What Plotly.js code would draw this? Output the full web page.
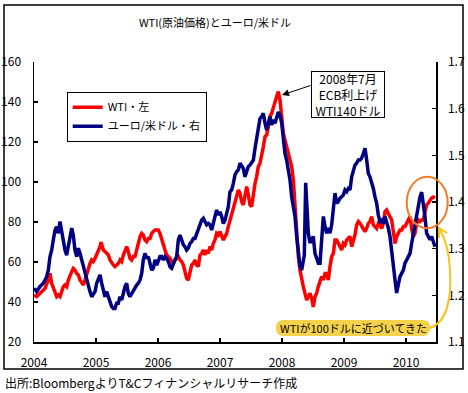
<!DOCTYPE html>
<html><head><meta charset="utf-8">
<script src="https://cdn.plot.ly/plotly-3.0.1.min.js"></script>
<style>html,body{margin:0;padding:0;background:#fff}#chart{width:468px;height:393px}</style>
</head><body><div id="chart"></div>
<script>
// WTI crude oil price (left axis, USD)
const wtiYear = [2004.000,2004.043,2004.070,2004.097,2004.151,2004.177,2004.231,2004.258,2004.285,2004.312,2004.339,2004.366,2004.392,2004.419,2004.446,2004.473,2004.500,2004.527,2004.554,2004.581,2004.608,2004.634,2004.661,2004.688,2004.715,2004.742,2004.769,2004.796,2004.823,2004.849,2004.876,2004.903,2004.930,2004.957,2004.984,2005.011,2005.038,2005.065,2005.081,2005.091,2005.118,2005.145,2005.172,2005.199,2005.226,2005.253,2005.280,2005.306,2005.333,2005.360,2005.387,2005.414,2005.441,2005.468,2005.495,2005.521,2005.548,2005.575,2005.602,2005.629,2005.656,2005.683,2005.710,2005.737,2005.763,2005.790,2005.817,2005.844,2005.871,2005.898,2005.925,2005.952,2005.979,2006.005,2006.032,2006.059,2006.086,2006.113,2006.140,2006.167,2006.194,2006.220,2006.247,2006.274,2006.301,2006.328,2006.355,2006.382,2006.409,2006.435,2006.462,2006.489,2006.516,2006.543,2006.570,2006.597,2006.624,2006.651,2006.677,2006.704,2006.731,2006.758,2006.785,2006.812,2006.839,2006.866,2006.892,2006.919,2006.946,2006.973,2007.000,2007.027,2007.054,2007.081,2007.108,2007.134,2007.161,2007.188,2007.215,2007.242,2007.269,2007.296,2007.323,2007.349,2007.376,2007.403,2007.430,2007.457,2007.484,2007.511,2007.538,2007.565,2007.591,2007.618,2007.645,2007.672,2007.699,2007.726,2007.753,2007.780,2007.806,2007.833,2007.860,2007.887,2007.914,2007.941,2007.968,2007.995,2008.022,2008.048,2008.075,2008.102,2008.129,2008.156,2008.183,2008.210,2008.237,2008.264,2008.290,2008.317,2008.344,2008.371,2008.398,2008.425,2008.452,2008.479,2008.505,2008.532,2008.559,2008.586,2008.613,2008.640,2008.667,2008.694,2008.720,2008.747,2008.774,2008.801,2008.828,2008.855,2008.882,2008.909,2008.935,2008.962,2008.989,2009.016,2009.043,2009.070,2009.097,2009.124,2009.151,2009.177,2009.204,2009.231,2009.258,2009.285,2009.312,2009.339,2009.366,2009.392,2009.419,2009.446,2009.473,2009.500,2009.527,2009.554,2009.581,2009.608,2009.634,2009.661,2009.688,2009.715,2009.742,2009.769,2009.796,2009.823,2009.849,2009.876,2009.903,2009.930,2009.957,2009.984,2010.011,2010.038,2010.065,2010.091,2010.118,2010.145,2010.172,2010.199,2010.226,2010.253,2010.280,2010.306,2010.333,2010.360,2010.387,2010.414,2010.441,2010.468];
const wtiPrice = [43.5,42.7,43.5,44.3,46.0,46.8,51.0,54.3,49.3,46.8,45.2,42.7,43.5,42.7,45.2,47.7,48.5,47.7,51.0,53.5,55.2,56.8,56.0,54.3,53.5,51.0,49.3,48.5,51.0,54.3,57.7,59.3,61.0,60.2,61.8,63.5,66.0,67.7,70.0,68.5,66.0,65.2,64.3,63.5,61.0,59.3,58.5,57.7,58.5,59.3,61.0,60.2,63.5,66.0,67.7,65.2,61.8,61.0,62.7,62.7,66.8,69.3,72.7,74.3,73.5,71.0,70.2,71.8,71.8,74.3,75.2,76.0,76.0,76.0,74.3,71.0,69.3,66.0,63.5,62.7,61.8,60.2,59.3,61.0,61.8,62.7,61.0,60.2,58.5,54.3,51.8,51.0,56.0,58.5,59.3,61.0,58.5,57.7,63.5,64.3,66.0,63.5,66.0,64.3,67.7,66.0,69.3,71.0,74.3,73.5,75.2,72.7,71.0,72.7,74.3,77.7,81.0,84.3,87.7,89.3,92.7,96.0,94.3,90.2,88.5,92.7,97.7,93.5,88.5,87.7,94.3,99.3,102.7,107.7,109.3,112.7,117.7,122.7,123.5,127.7,132.7,134.3,137.7,141.0,142.7,145.2,141.0,132.7,124.3,121.0,117.7,116.0,111.0,107.7,101.0,87.7,74.3,62.7,56.0,52.7,47.7,44.3,41.0,42.7,44.3,41.8,37.5,42.7,44.3,47.7,51.0,52.7,51.0,54.3,54.3,51.0,57.7,62.7,64.3,71.0,71.0,69.3,66.8,66.0,69.3,68.5,71.0,71.8,72.7,67.7,70.2,73.5,78.5,80.2,79.3,77.7,76.0,75.2,76.8,79.3,80.2,82.7,78.5,77.7,76.8,79.3,78.5,76.8,79.3,85.2,86.0,84.3,82.7,81.0,75.2,69.3,72.7,74.3,76.0,76.0,77.7,77.7,79.3,81.0,82.7,76.8,72.7,74.3,79.3,81.0,80.2,81.0,81.0,85.0,88.5,89.5,91.0,92.0,92.5,92.0];

// EUR/USD (right axis)
const eurYear = [2004.000,2004.043,2004.097,2004.151,2004.204,2004.231,2004.258,2004.285,2004.312,2004.339,2004.366,2004.392,2004.419,2004.446,2004.473,2004.500,2004.527,2004.554,2004.581,2004.608,2004.634,2004.661,2004.688,2004.715,2004.742,2004.769,2004.796,2004.823,2004.849,2004.876,2004.903,2004.930,2004.957,2004.984,2005.011,2005.038,2005.065,2005.091,2005.118,2005.145,2005.172,2005.199,2005.226,2005.253,2005.280,2005.306,2005.333,2005.360,2005.387,2005.414,2005.441,2005.468,2005.495,2005.521,2005.548,2005.575,2005.602,2005.629,2005.656,2005.683,2005.710,2005.737,2005.763,2005.790,2005.817,2005.844,2005.871,2005.898,2005.925,2005.952,2005.979,2006.005,2006.032,2006.059,2006.086,2006.113,2006.140,2006.167,2006.194,2006.220,2006.247,2006.274,2006.301,2006.328,2006.355,2006.382,2006.409,2006.435,2006.462,2006.489,2006.516,2006.543,2006.570,2006.597,2006.624,2006.651,2006.677,2006.704,2006.731,2006.758,2006.785,2006.812,2006.839,2006.866,2006.892,2006.919,2006.946,2006.973,2007.000,2007.027,2007.054,2007.081,2007.108,2007.134,2007.161,2007.188,2007.215,2007.242,2007.269,2007.296,2007.323,2007.349,2007.376,2007.403,2007.430,2007.457,2007.484,2007.511,2007.538,2007.565,2007.591,2007.618,2007.645,2007.672,2007.699,2007.726,2007.753,2007.780,2007.806,2007.833,2007.860,2007.887,2007.914,2007.941,2007.968,2007.995,2008.022,2008.048,2008.075,2008.102,2008.129,2008.156,2008.183,2008.210,2008.237,2008.264,2008.290,2008.317,2008.344,2008.360,2008.382,2008.403,2008.425,2008.452,2008.479,2008.505,2008.532,2008.559,2008.586,2008.613,2008.640,2008.667,2008.694,2008.720,2008.747,2008.774,2008.801,2008.828,2008.855,2008.882,2008.909,2008.935,2008.962,2008.989,2009.016,2009.043,2009.070,2009.097,2009.124,2009.151,2009.177,2009.204,2009.231,2009.258,2009.285,2009.312,2009.339,2009.366,2009.392,2009.419,2009.446,2009.473,2009.500,2009.527,2009.554,2009.581,2009.608,2009.634,2009.661,2009.688,2009.715,2009.742,2009.769,2009.796,2009.823,2009.849,2009.876,2009.903,2009.930,2009.957,2009.984,2010.011,2010.038,2010.065,2010.091,2010.118,2010.145,2010.172,2010.199,2010.226,2010.253,2010.280,2010.306,2010.333,2010.360,2010.387,2010.414,2010.441,2010.468];
const eurRate = [1.215,1.208,1.219,1.226,1.240,1.254,1.283,1.297,1.319,1.340,1.347,1.333,1.358,1.336,1.308,1.297,1.286,1.308,1.326,1.344,1.329,1.297,1.283,1.301,1.290,1.276,1.261,1.244,1.233,1.219,1.208,1.197,1.204,1.208,1.226,1.237,1.244,1.226,1.208,1.197,1.208,1.197,1.183,1.176,1.172,1.172,1.183,1.183,1.197,1.190,1.204,1.219,1.226,1.204,1.197,1.204,1.211,1.215,1.222,1.226,1.233,1.247,1.276,1.290,1.279,1.283,1.269,1.254,1.258,1.276,1.265,1.276,1.283,1.283,1.276,1.283,1.279,1.272,1.261,1.258,1.269,1.276,1.283,1.319,1.329,1.319,1.308,1.304,1.297,1.301,1.311,1.315,1.322,1.322,1.333,1.340,1.354,1.361,1.365,1.358,1.351,1.354,1.351,1.340,1.354,1.372,1.383,1.372,1.379,1.369,1.354,1.361,1.379,1.390,1.422,1.426,1.440,1.458,1.465,1.469,1.483,1.479,1.472,1.454,1.469,1.476,1.479,1.486,1.490,1.515,1.536,1.561,1.579,1.583,1.590,1.569,1.554,1.569,1.583,1.565,1.576,1.569,1.583,1.593,1.586,1.569,1.536,1.504,1.490,1.469,1.447,1.411,1.390,1.369,1.326,1.286,1.263,1.254,1.271,1.286,1.441,1.372,1.333,1.312,1.319,1.326,1.290,1.279,1.269,1.269,1.319,1.369,1.347,1.333,1.344,1.333,1.351,1.390,1.419,1.397,1.401,1.408,1.411,1.415,1.426,1.422,1.429,1.426,1.454,1.469,1.479,1.483,1.490,1.490,1.494,1.504,1.515,1.490,1.461,1.454,1.443,1.429,1.411,1.397,1.372,1.358,1.361,1.354,1.369,1.358,1.344,1.326,1.290,1.254,1.233,1.205,1.226,1.240,1.247,1.254,1.269,1.276,1.286,1.290,1.311,1.333,1.351,1.376,1.397,1.411,1.421,1.397,1.369,1.333,1.326,1.319,1.326,1.312,1.304];

const yearTicks = [2004,2005,2006,2007,2008,2009,2010];
const yearTickText = ['2004','2005','2006','2007','2008','2009','2010'];
const wtiTicks = [20,40,60,80,100,120,140,160];
const eurTicks = [1.1,1.2,1.3,1.4,1.5,1.6,1.7];
const eurTickText = ['1.1','1.2','1.3','1.4','1.5','1.6','1.7'];

const seriesNames = ['WTI・左','ユーロ/米ドル・右'];
const chartTitle = 'WTI(原油価格)とユーロ/米ドル';
const noteText = '2008年7月<br>ECB利上げ<br>WTI140ドル';
const calloutText = 'WTIが100ドルに近づいてきた';
const sourceText = '出所:BloombergよりT&Cフィナンシャルリサーチ作成';

// pixel -> paper helpers (plot area: x 34..436, y 62..342)
const L = 34, R = 436, T = 62, B = 342;
const px = x => (x - L) / (R - L);
const py = y => (B - y) / (B - T);
const P = (x, y) => px(x).toFixed(5) + ',' + py(y).toFixed(5);

function roundRect(x0, y0, x1, y1, r) {
  const k = r * 0.45;
  return `M ${P(x0 + r, y0)} L ${P(x1 - r, y0)} C ${P(x1 - k, y0)} ${P(x1, y0 + k)} ${P(x1, y0 + r)} ` +
    `L ${P(x1, y1 - r)} C ${P(x1, y1 - k)} ${P(x1 - k, y1)} ${P(x1 - r, y1)} ` +
    `L ${P(x0 + r, y1)} C ${P(x0 + k, y1)} ${P(x0, y1 - k)} ${P(x0, y1 - r)} ` +
    `L ${P(x0, y0 + r)} C ${P(x0, y0 + k)} ${P(x0 + k, y0)} ${P(x0 + r, y0)} Z`;
}

const FONT = '"Noto Sans CJK JP", "Liberation Sans", sans-serif';

const traces = [
  {x: wtiYear, y: wtiPrice, name: seriesNames[0], type: 'scatter', mode: 'lines',
   line: {color: '#ff0000', width: 3.5}, yaxis: 'y'},
  {x: eurYear, y: eurRate, name: seriesNames[1], type: 'scatter', mode: 'lines',
   line: {color: '#000080', width: 3.5}, yaxis: 'y2'}
];

const axisCommon = {showline: true, linecolor: '#000', linewidth: 1.5, ticks: 'inside', ticklen: 4,
  tickwidth: 1.5, tickcolor: '#000', showgrid: false, zeroline: false, fixedrange: true,
  tickfont: {size: 12, color: '#000', family: FONT}};

const layout = {
  width: 468, height: 393,
  margin: {l: L, r: 468 - R, t: T, b: 393 - B, pad: 0},
  paper_bgcolor: '#fff', plot_bgcolor: '#fff',
  font: {family: FONT, color: '#000'},
  title: {text: chartTitle, font: {size: 11, color: '#000', family: FONT},
    xref: 'container', yref: 'container', x: 215 / 468, xanchor: 'center', y: 1 - 23 / 393, yanchor: 'middle'},
  xaxis: Object.assign({}, axisCommon, {range: [2004, 2010.484], tickvals: yearTicks, ticktext: yearTickText,
    ticklabelstandoff: 9}),
  yaxis: Object.assign({}, axisCommon, {range: [20, 160], tickvals: wtiTicks, ticklabelstandoff: 9}),
  yaxis2: Object.assign({}, axisCommon, {range: [1.1, 1.7], tickvals: eurTicks, ticktext: eurTickText,
    overlaying: 'y', side: 'right', ticklabelstandoff: 8}),
  showlegend: true,
  legend: {x: px(66.7), y: py(91.7), xanchor: 'left', yanchor: 'top', bgcolor: '#fff',
    bordercolor: '#000', borderwidth: 1, font: {size: 11, family: FONT, color: '#000'},
    itemwidth: 30, tracegroupgap: 0},
  shapes: [
    {type: 'rect', xref: 'paper', yref: 'paper', x0: px(4), x1: px(463), y0: py(369), y1: py(5),
     line: {color: '#000', width: 1.5}, layer: 'above'},
    {type: 'circle', xref: 'paper', yref: 'paper', x0: px(406.7), x1: px(447.7), y0: py(228.3), y1: py(176.7),
     line: {color: '#F07D28', width: 2}, layer: 'above'},
    {type: 'path', xref: 'paper', yref: 'paper', path: roundRect(276, 320, 430, 336, 7),
     fillcolor: '#F5D24B', line: {width: 0}, layer: 'above'},
    {type: 'path', xref: 'paper', yref: 'paper',
     path: `M ${P(430, 328)} C ${P(446, 323)} ${P(452, 300)} ${P(450, 270)} C ${P(449, 250)} ${P(445, 238)} ${P(439.5, 229)}`,
     line: {color: '#F7C21B', width: 2}, layer: 'above'},
    {type: 'path', xref: 'paper', yref: 'paper',
     path: `M ${P(439, 238)} L ${P(439, 228)} L ${P(447, 233)}`,
     line: {color: '#F7C21B', width: 2}, layer: 'above'}
  ],
  annotations: [
    {xref: 'paper', yref: 'paper', x: px(348), y: py(94), xanchor: 'center', yanchor: 'middle',
     text: noteText, showarrow: false,
     bordercolor: '#000', borderwidth: 1, bgcolor: '#fff', borderpad: 1, width: 70, height: 43,
     font: {size: 12, family: FONT, color: '#000'}, align: 'center'},
    {xref: 'paper', yref: 'paper', x: px(282), y: py(95), text: '', showarrow: true,
     axref: 'pixel', ayref: 'pixel', ax: 30, ay: -10, arrowhead: 2, arrowsize: 1.4, arrowwidth: 1,
     arrowcolor: '#000', standoff: 0},
    {xref: 'paper', yref: 'paper', x: px(353), y: py(328), xanchor: 'center', yanchor: 'middle',
     text: calloutText, showarrow: false, font: {size: 11, family: FONT, color: '#000'}},
    {xref: 'paper', yref: 'paper', x: px(3), y: py(382), xanchor: 'left', yanchor: 'middle',
     text: sourceText, showarrow: false, font: {size: 12, family: FONT, color: '#000'}}
  ]
};

Plotly.newPlot('chart', traces, layout, {staticPlot: true, displayModeBar: false});
</script></body></html>
